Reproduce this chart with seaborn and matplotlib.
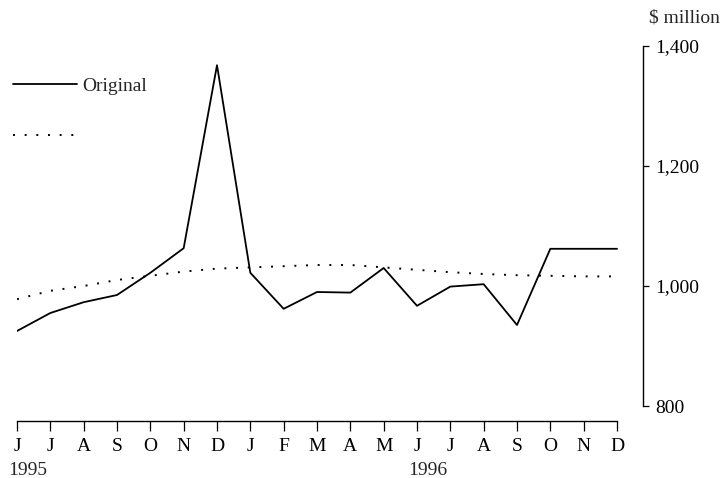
import matplotlib
matplotlib.use("Agg")
import matplotlib.pyplot as plt
from matplotlib.lines import Line2D
import seaborn as sns
import pandas as pd

# Monthly values, June 1995 to December 1996 ($ million)
months = ['J', 'J', 'A', 'S', 'O', 'N', 'D', 'J', 'F', 'M',
          'A', 'M', 'J', 'J', 'A', 'S', 'O', 'N', 'D']
original = [925, 955, 973, 985, 1022, 1063, 1368, 1022, 962, 990,
            989, 1030, 967, 999, 1003, 935, 1062, 1062, 1062]
trend = [978, 992, 1000, 1010, 1017, 1024, 1029, 1031, 1033, 1035,
         1035, 1031, 1027, 1023, 1020, 1018, 1017, 1016, 1016]
years = ['1995', '1996']
year_pos = [0, 12]
y_ticks = [800, 1000, 1200, 1400]

df = pd.DataFrame({'idx': range(len(months)), 'original': original, 'trend': trend})

sns.set_style("white")
plt.rcParams['font.family'] = ['Liberation Serif', 'DejaVu Serif']

fig = plt.figure(figsize=(7.2, 4.78), dpi=100)
ax = fig.add_axes([17 / 720, 1 - 406 / 478, 626 / 720, 360 / 478])

sns.lineplot(data=df, x='idx', y='original', ax=ax, color='black', linewidth=1.3)
sns.lineplot(data=df, x='idx', y='trend', ax=ax, color='black', linewidth=1.4,
             linestyle=(0, (1, 5)))

ax.set_xlim(0, 18.78)
ax.set_ylim(800, 1400)
ax.set_xlabel('')
ax.set_ylabel('')

# Right axis only
ax.yaxis.tick_right()
ax.set_yticks(y_ticks)
ax.set_yticklabels([f'{v:,}' for v in y_ticks])
ax.tick_params(axis='y', right=True, direction='out', length=4, width=0.9,
               pad=5, colors='black', labelsize=14)

ax.set_xticks(df['idx'])
ax.set_xticklabels(months)
ax.tick_params(axis='x', bottom=True, direction='out', length=7, width=0.9,
               pad=5, colors='black', labelsize=14)

for side in ['top', 'left']:
    ax.spines[side].set_visible(False)
for side in ['right', 'bottom']:
    ax.spines[side].set_color('black')
    ax.spines[side].set_linewidth(1.0)
ax.spines['bottom'].set_position(('outward', 11))
ax.spines['bottom'].set_bounds(0, 18)

# Year labels under the month letters
for pos, yr in zip(year_pos, years):
    ax.text(pos - 0.27, -0.18, yr, transform=ax.get_xaxis_transform(),
            ha='left', va='center', fontsize=14)

fig.text(684 / 720, 1 - 18 / 478, '$ million', ha='center', va='center', fontsize=14)

handles = [Line2D([], [], color='black', linewidth=1.3),
           Line2D([], [], color='black', linewidth=1.4, linestyle=(0, (1, 5)))]
leg = fig.legend(handles, ['Original', ''], loc='upper left',
                 bbox_to_anchor=(-5 / 720, 1 - 60 / 478), frameon=False,
                 fontsize=14, handlelength=3.3, handletextpad=0.3,
                 labelspacing=1.7)

fig.savefig('out.png', dpi=100)
